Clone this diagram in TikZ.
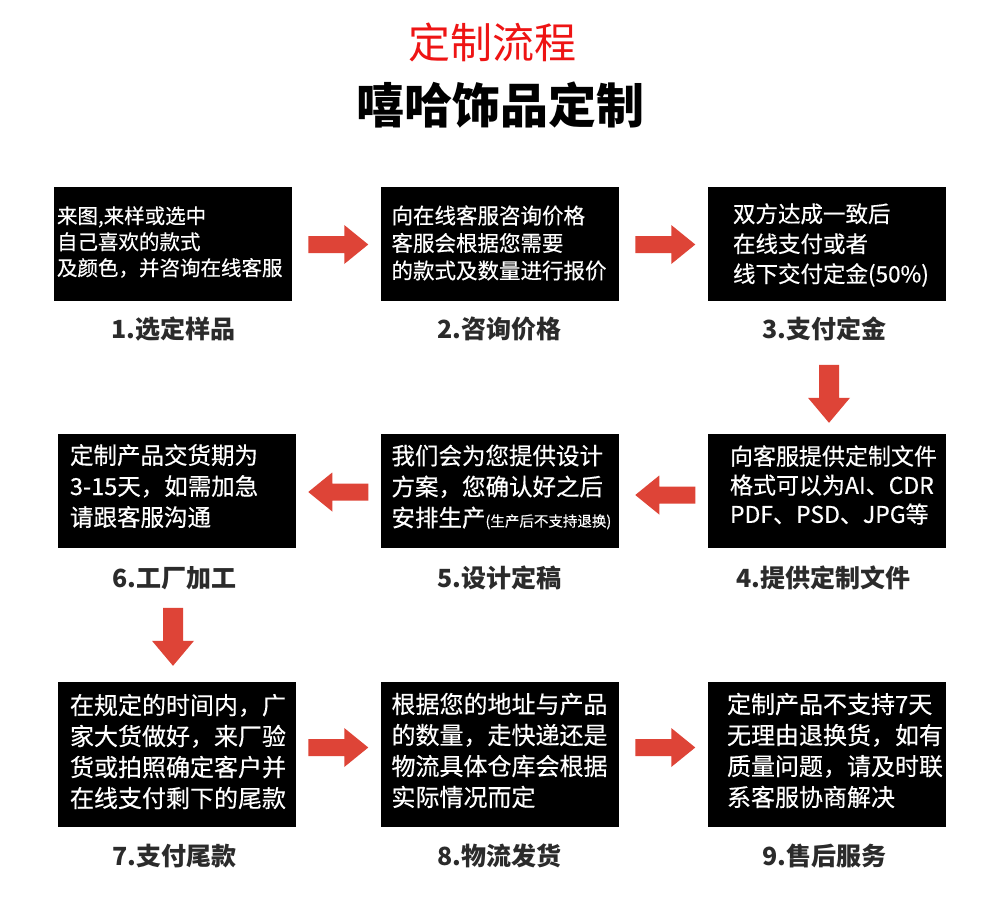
\documentclass[tikz,border=0pt]{standalone}
\usepackage{fontspec}
\setmainfont{Noto Sans CJK SC}
\newfontfamily\boxfont[FakeBold=0.4]{Noto Sans CJK SC}
\usetikzlibrary{calc}
\definecolor{ared}{RGB}{222,68,55}
\definecolor{tred}{RGB}{238,20,20}
\definecolor{lblgray}{RGB}{43,43,43}
\tikzset{
  blk/.style={fill=black,draw=none,minimum width=238pt,minimum height=#1,inner sep=0pt},
  btxt/.style={text=white,anchor=west,align=left,inner sep=0pt},
  lbl/.style={text=lblgray,font=\bfseries\fontsize{25}{29}\selectfont,inner sep=0pt},
  rarrow/.pic={\fill[ared] (-30,-8.5) -- (6,-8.5) -- (6,-19.5) -- (30,0) -- (6,19.5) -- (6,8.5) -- (-30,8.5) -- cycle;},
  larrow/.pic={\fill[ared] (30,-8.5) -- (-6,-8.5) -- (-6,-19.5) -- (-30,0) -- (-6,19.5) -- (-6,8.5) -- (30,8.5) -- cycle;},
  darrow/.pic={\fill[ared] (-10,-29) -- (10,-29) -- (10,4) -- (21,4) -- (0,29) -- (-21,4) -- (-10,4) -- cycle;}
}
\begin{document}
\begin{tikzpicture}[x=1pt,y=-1pt]
\useasboundingbox[fill=white] (0,0) rectangle (1000,908);
% titles
\node[text=tred,font=\fontsize{42}{46}\selectfont,inner sep=0pt] (t1) at (492,42) {定制流程};
\node[text=black,font=\bfseries\fontsize{48}{52}\selectfont,inner sep=0pt] (t2) at (500,105) {嘻哈饰品定制};
% boxes
\node[blk=114pt] (b1) at (173,244) {};
\node[blk=114pt] (b2) at (499.5,244) {};
\node[blk=114pt] (b3) at (827,244) {};
\node[blk=114pt] (b6) at (177,491) {};
\node[blk=114pt] (b5) at (499.5,491) {};
\node[blk=114pt] (b4) at (827,491) {};
\node[blk=145pt] (b7) at (177,754.5) {};
\node[blk=145pt] (b8) at (499.5,754.5) {};
\node[blk=145pt] (b9) at (827,754.5) {};
% box texts
\node[btxt,font=\boxfont\fontsize{20.5}{26}\selectfont] (x1) at ($(b1.west)+(3,-2)$) {来图,来样或选中\\自己喜欢的款式\\及颜色，并咨询在线客服};
\node[btxt,font=\boxfont\fontsize{21.5}{27.5}\selectfont] (x2) at ($(b2.west)+(11,-1)$) {向在线客服咨询价格\\客服会根据您需要\\的款式及数量进行报价};
\node[btxt,font=\boxfont\fontsize{22.5}{30}\selectfont] (x3) at ($(b3.west)+(25,1)$) {双方达成一致后\\在线支付或者\\线下交付定金(50\%)};
\node[btxt,font=\boxfont\fontsize{23.5}{31}\selectfont] (x6) at ($(b6.west)+(12,-5)$) {定制产品交货期为\\3-15天，如需加急\\请跟客服沟通};
\node[btxt,font=\boxfont\fontsize{23.5}{31}\selectfont] (x5) at ($(b5.west)+(11,-4)$) {我们会为您提供设计\\方案，您确认好之后\\安排生产{\fontsize{14.5}{16}\selectfont(生产后不支持退换)}};
\node[btxt,font=\boxfont\fontsize{23}{29}\selectfont] (x4) at ($(b4.west)+(22,-6)$) {向客服提供定制文件\\格式可以为AI、CDR\\PDF、PSD、JPG等};
\node[btxt,font=\boxfont\fontsize{24}{31}\selectfont] (x7) at ($(b7.west)+(12,-3)$) {在规定的时间内，广\\家大货做好，来厂验\\货或拍照确定客户并\\在线支付剩下的尾款};
\node[btxt,font=\boxfont\fontsize{24}{31}\selectfont] (x8) at ($(b8.west)+(11,-4)$) {根据您的地址与产品\\的数量，走快递还是\\物流具体仓库会根据\\实际情况而定};
\node[btxt,font=\boxfont\fontsize{24}{31}\selectfont] (x9) at ($(b9.west)+(19,-4)$) {定制产品不支持7天\\无理由退换货，如有\\质量问题，请及时联\\系客服协商解决};
% labels
\node[lbl] (l1) at ($(b1.south)+(0,28)$) {1.选定样品};
\node[lbl] (l2) at ($(b2.south)+(0,28)$) {2.咨询价格};
\node[lbl] (l3) at ($(b3.south)+(-3,28)$) {3.支付定金};
\node[lbl] (l6) at ($(b6.south)+(-3,30)$) {6.工厂加工};
\node[lbl] (l5) at ($(b5.south)+(0,30)$) {5.设计定稿};
\node[lbl] (l4) at ($(b4.south)+(-4,30)$) {4.提供定制文件};
\node[lbl] (l7) at ($(b7.south)+(-3,29)$) {7.支付尾款};
\node[lbl] (l8) at ($(b8.south)+(0,29)$) {8.物流发货};
\node[lbl] (l9) at ($(b9.south)+(-3,29)$) {9.售后服务};
% arrows
\pic at ($(b1.east)!0.5!(b2.west)+(2,0.5)$) {rarrow};
\pic at ($(b2.east)!0.5!(b3.west)+(2,0.5)$) {rarrow};
\pic at ($(b4.north)+(2,-40)$) {darrow};
\pic at ($(b4.west)!0.5!(b5.east)+(2,4)$) {larrow};
\pic at ($(b5.west)!0.5!(b6.east)+(0,1)$) {larrow};
\pic at ($(b7.north)+(-4,-45)$) {darrow};
\pic at ($(b7.east)!0.5!(b8.west)+(0,-7)$) {rarrow};
\pic at ($(b8.east)!0.5!(b9.west)+(2,-7)$) {rarrow};
\end{tikzpicture}
\end{document}
